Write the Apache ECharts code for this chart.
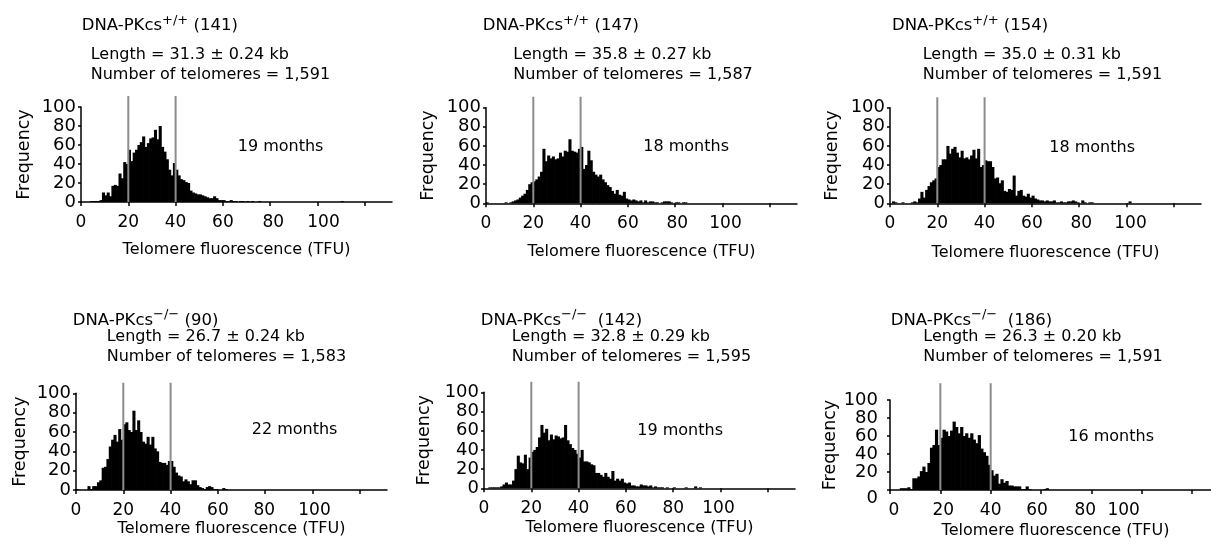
<!DOCTYPE html>
<html>
<head>
<meta charset="utf-8">
<script src="https://cdn.jsdelivr.net/npm/echarts@6/dist/echarts.min.js"></script>
<style>
  html, body { margin: 0; padding: 0; background: #fff; }
  #chart { width: 1211px; height: 544px; }
</style>
</head>
<body>
<div id="chart"></div>
<script>
// Telomere fluorescence histograms: telomere counts per 1-TFU bin, bin k covers [k, k+1)
const counts141 = [0,0,0,0,1,1,1,1,2,10, 7,10,6,17,18,17,30,25,42,40, 55,43,52,55,60,63,69,58,62,67, 68,76,66,80,58,53,45,34,28,41, 34,28,24,23,21,20,12,10,9,8, 8,7,6,5,4,4,6,4,2,2, 2,1,1,2,1,1,0,1,1,0, 1,0,1,0,0,1,0,0,0,0, 0,0,0,0,0,0,0,0,0,0, 0,0,0,0,0,0,0,0,0,0, 0,0,0,0,0,0,0,0,0,0, 1];
const counts147 = [1,0,0,0,0,0,0,0,1,0, 1,2,3,4,6,8,10,14,20,22, 23,25,28,33,57,44,50,47,49,46, 47,53,49,55,54,67,55,54,53,57, 59,36,40,55,45,33,30,28,30,25, 22,19,17,13,10,14,9,8,12,5, 4,3,4,3,2,3,1,3,1,2, 2,1,1,0,1,2,2,2,1,0, 1,1,0,1,1];
const counts154 = [0,2,1,0,0,1,0,0,0,1, 2,1,5,12,6,14,18,22,24,26, 38,40,46,46,60,52,57,59,53,48, 55,47,48,46,50,56,47,57,38,40, 45,44,44,38,26,27,21,24,13,12, 15,14,29,8,13,14,8,7,10,6, 8,5,4,3,3,2,3,2,2,3, 1,1,2,1,1,2,2,3,2,1, 0,3,1,0,1,1,0,0,0,0, 0,0,0,0,0,0,0,0,0,0, 0,2];
const counts90 = [1,0,0,0,0,4,1,4,4,8, 10,23,24,32,45,52,57,50,63,52, 68,70,62,60,82,62,72,60,50,48, 55,47,55,43,40,29,28,28,26,30, 30,24,18,15,14,9,11,9,6,10, 10,5,3,2,1,3,4,3,1,1, 0,0,2,1];
const counts142 = [0,0,1,1,1,1,1,2,4,6, 4,4,8,20,34,27,26,35,20,32, 38,40,43,53,66,58,62,50,56,51, 55,54,52,53,66,50,46,42,40,36, 32,40,28,28,27,25,24,16,16,14, 12,16,12,10,18,8,10,8,10,6, 5,6,3,3,2,2,4,3,3,2, 3,1,2,1,1,1,0,1,0,0, 1,0,0,0,0,1,0,0,0,2, 0,1];
const counts186 = [0,0,0,0,2,2,2,3,1,13, 13,15,21,26,20,30,47,50,67,50, 58,67,65,60,66,76,70,63,70,60, 63,58,63,56,52,61,46,42,38,28, 22,16,18,7,12,8,10,5,5,4, 4,4,1,1,4,1,0,0,0,0, 0,1,2];

const histograms = [counts141, counts147, counts154, counts90, counts142, counts186];
const genotypes = ['+/+', '+/+', '+/+', '\u2212/\u2212', '\u2212/\u2212', '\u2212/\u2212'];
const mouseIds = ['141', '147', '154', '90', '142', '186'];
const meanLengths = ['31.3', '35.8', '35.0', '26.7', '32.8', '26.3'];
const semLengths = ['0.24', '0.27', '0.31', '0.24', '0.29', '0.20'];
const telomereTotals = ['1,591', '1,587', '1,591', '1,583', '1,595', '1,591'];
const ages = ['19', '18', '18', '22', '19', '16'];
const gateLines = [20, 40];
const xLabelValues = [0, 20, 40, 60, 80, 100];
const xTickValues = [0, 20, 40, 60, 80, 100, 120];
const yTickValues = [0, 20, 40, 60, 80, 100];
const xAxisTitle = 'Telomere fluorescence (TFU)';
const yAxisTitle = 'Frequency';

// Panel placement (pixels). xShift nudges each x tick label sideways; y0Drop lowers the "0" label.
const frames = [
  { grid: { left: 81,  top: 107,   width: 311, height: 95 },   lineTop: 96,    title: [81.7, 14],    info: [90.7, 46.5], months: [237.7, 139],  xGap: 40, yGap: 48, yMargin: 5,  sep: ' ',  xShift: [0, 0, 0, 0, 3, 6],   y0Drop: 0 },
  { grid: { left: 486, top: 107.7, width: 311, height: 95.6 }, lineTop: 96.7,  title: [482.7, 14],   info: [513.3, 46.5], months: [643.3, 139],  xGap: 41, yGap: 49, yMargin: 5,  sep: ' ',  xShift: [0, 0, 0, 0, 2, 3],   y0Drop: 0 },
  { grid: { left: 890, top: 107.7, width: 311, height: 95.6 }, lineTop: 97.3,  title: [892, 14],     info: [922.7, 46.5], months: [1049.3, 140], xGap: 42, yGap: 49, yMargin: 5,  sep: ' ',  xShift: [0, 0, 0, 0, 2, 4],   y0Drop: 0 },
  { grid: { left: 76,  top: 393.3, width: 311, height: 96.7 }, lineTop: 382.7, title: [72.7, 308.4], info: [106.7, 329],  months: [251.7, 422.3], xGap: 31, yGap: 47, yMargin: 5,  sep: ' ',  xShift: [0, 0, 0, 0, -1, 2],  y0Drop: 0 },
  { grid: { left: 484, top: 392.3, width: 311, height: 96 },   lineTop: 381.7, title: [480.7, 308.4], info: [511.7, 329],  months: [637.3, 423],  xGap: 32, yGap: 51, yMargin: 5,  sep: '  ', xShift: [0, 0, 0, 0, 0, -2],  y0Drop: 0 },
  { grid: { left: 890, top: 400,   width: 331, height: 90 },   lineTop: 383.3, title: [890.7, 308.4], info: [923.3, 329],  months: [1068.3, 429], xGap: 33, yGap: 47, yMargin: 12, sep: '  ', xShift: [4, 3, 0, -4, -6, -18], y0Drop: 8 }
];

const FONT = '"DejaVu Sans", "Liberation Sans", Arial, sans-serif';
const X_MAX = 131.5;
const X_LABEL_SIZE = 17;
const Y_LABEL_SIZE = 18;
const BAR_OVERLAP = 0.35; // px added on each side so adjacent bins join without seams

function shiftedRich(shifts) {
  const rich = {};
  xLabelValues.forEach((v, k) => {
    const s = shifts[k];
    rich['v' + v] = {
      fontSize: X_LABEL_SIZE, fontFamily: FONT, color: '#000',
      padding: s >= 0 ? [0, 0, 0, 2 * s] : [0, -2 * s, 0, 0]
    };
  });
  return rich;
}

// histogram bin: a rectangle from [start, 0] to [end, count] in data space
function renderBin(params, api) {
  const count = api.value(2);
  if (!count) return null;
  const p0 = api.coord([api.value(0), 0]);
  const p1 = api.coord([api.value(1), count]);
  return {
    type: 'rect',
    shape: { x: p0[0] - BAR_OVERLAP, y: p1[1], width: p1[0] - p0[0] + 2 * BAR_OVERLAP, height: p0[1] - p1[1] },
    style: { fill: '#000' }
  };
}

const grids = [], xAxes = [], yAxes = [], series = [], graphics = [];

frames.forEach((f, i) => {
  const g = f.grid;
  const bottomPx = g.top + g.height;
  // main histogram grid
  grids.push({ left: g.left, top: g.top, width: g.width, height: g.height, containLabel: false, outerBoundsMode: 'none' });
  // overlay grid for the gate lines, which rise above the 100 mark
  grids.push({ left: g.left, top: f.lineTop, width: g.width, height: bottomPx - f.lineTop, containLabel: false, outerBoundsMode: 'none' });

  xAxes.push({
    gridIndex: 2 * i, type: 'value', min: 0, max: X_MAX,
    axisLine: { show: true, lineStyle: { color: '#000', width: 1.5 } },
    axisTick: { show: true, length: 4, customValues: xTickValues, lineStyle: { color: '#000', width: 1.5 } },
    axisLabel: {
      show: true, customValues: xLabelValues, margin: 12, color: '#000', fontSize: X_LABEL_SIZE, fontFamily: FONT,
      formatter: v => '{v' + v + '|' + v + '}', rich: shiftedRich(f.xShift)
    },
    splitLine: { show: false },
    name: xAxisTitle, nameLocation: 'middle', nameGap: f.xGap,
    nameTextStyle: { color: '#000', fontSize: 16, fontFamily: FONT }
  });
  yAxes.push({
    gridIndex: 2 * i, type: 'value', min: 0, max: 100, interval: 20,
    axisLine: { show: true, lineStyle: { color: '#000', width: 1.5 } },
    axisTick: { show: true, length: 3, customValues: yTickValues, lineStyle: { color: '#000', width: 1.5 } },
    axisLabel: {
      show: true, customValues: yTickValues, margin: f.yMargin, color: '#000', fontSize: Y_LABEL_SIZE, fontFamily: FONT,
      formatter: v => (v === 0 ? '{z|0}' : '{n|' + v + '}'),
      rich: {
        n: { fontSize: Y_LABEL_SIZE, fontFamily: FONT, color: '#000' },
        z: { fontSize: Y_LABEL_SIZE, fontFamily: FONT, color: '#000', padding: [2 * f.y0Drop, 0, 0, 0] }
      }
    },
    splitLine: { show: false },
    name: yAxisTitle, nameLocation: 'middle', nameGap: f.yGap,
    nameTextStyle: { color: '#000', fontSize: 17.5, fontFamily: FONT }
  });
  xAxes.push({ gridIndex: 2 * i + 1, type: 'value', min: 0, max: X_MAX, show: false });
  yAxes.push({ gridIndex: 2 * i + 1, type: 'value', min: 0, max: 1, show: false });

  series.push({
    type: 'custom', xAxisIndex: 2 * i, yAxisIndex: 2 * i,
    data: histograms[i].map((c, k) => [k, k + 1, c]),
    encode: { x: [0, 1], y: 2 },
    renderItem: renderBin, silent: true, clip: false
  });
  gateLines.forEach(v => {
    series.push({
      type: 'line', xAxisIndex: 2 * i + 1, yAxisIndex: 2 * i + 1,
      data: [[v, 0], [v, 1]], symbol: 'none', z: 5, silent: true,
      lineStyle: { color: '#8c8c8c', width: 2 }
    });
  });

  graphics.push({
    type: 'text', left: f.title[0], top: f.title[1], silent: true,
    style: {
      text: '{m|DNA-PKcs}{s|' + genotypes[i] + '}{m|' + f.sep + '(' + mouseIds[i] + ')}',
      rich: {
        m: { fontSize: 16.5, lineHeight: 24, fontFamily: FONT, fill: '#000' },
        s: { fontSize: 13, lineHeight: 14, verticalAlign: 'top', fontFamily: FONT, fill: '#000' }
      }
    }
  });
  graphics.push({
    type: 'text', left: f.info[0], top: f.info[1], silent: true,
    style: { text: 'Length = ' + meanLengths[i] + ' \u00b1 ' + semLengths[i] + ' kb', fontSize: 16, fontFamily: FONT, fill: '#000' }
  });
  graphics.push({
    type: 'text', left: f.info[0], top: f.info[1] + 20, silent: true,
    style: { text: 'Number of telomeres = ' + telomereTotals[i], fontSize: 16, fontFamily: FONT, fill: '#000' }
  });
  graphics.push({
    type: 'text', left: f.months[0], top: f.months[1], silent: true,
    style: { text: ages[i] + ' months', fontSize: 16, fontFamily: FONT, fill: '#000' }
  });
});

const chart = echarts.init(document.getElementById('chart'), null, { renderer: 'canvas' });
chart.setOption({
  animation: false,
  backgroundColor: '#fff',
  grid: grids,
  xAxis: xAxes,
  yAxis: yAxes,
  series: series,
  graphic: graphics
});
</script>
</body>
</html>
